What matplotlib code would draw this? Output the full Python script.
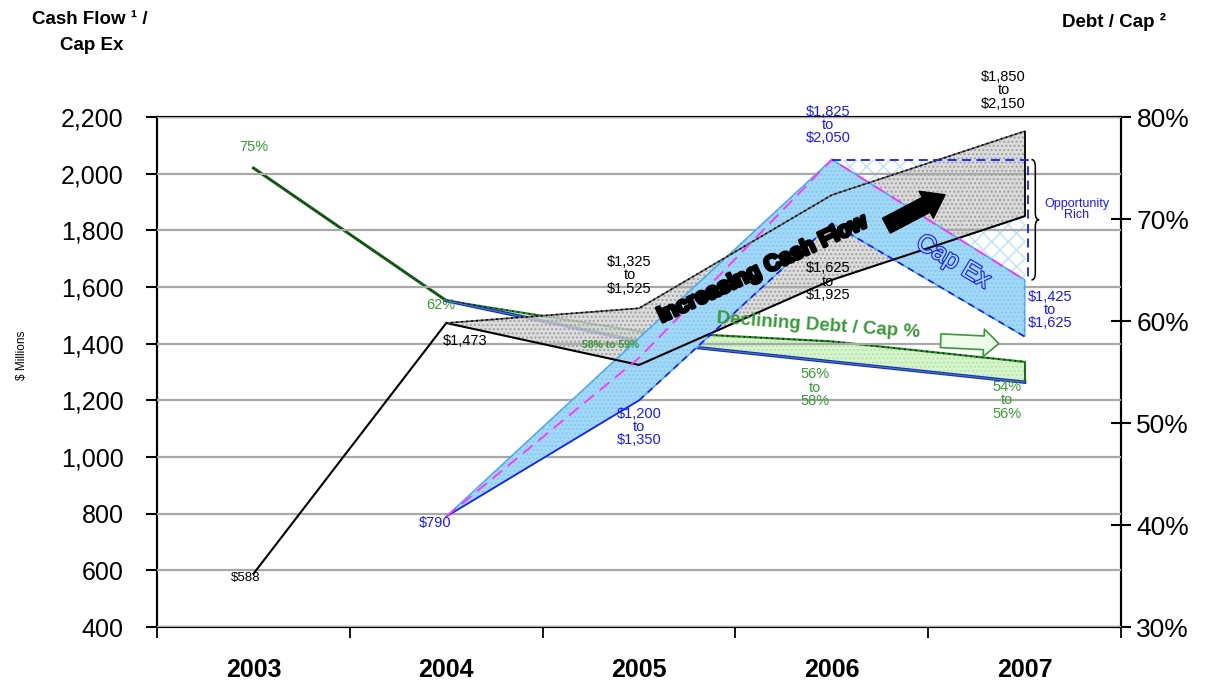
import numpy as np
import matplotlib
matplotlib.use('Agg')
import matplotlib.pyplot as plt
import matplotlib.patheffects as pe
from matplotlib.patches import Polygon, PathPatch
from matplotlib.path import Path
from matplotlib.ticker import FuncFormatter

plt.rcParams['font.family'] = ['Liberation Sans', 'DejaVu Sans']

# data
years = ['2003', '2004', '2005', '2006', '2007']
cash_low = [588, 1473, 1325, 1625, 1850]
cash_high = [588, 1473, 1525, 1925, 2150]
capex_years = ['2004', '2005', '2006', '2007']
capex_low = [790, 1200, 1825, 1425]
capex_high = [790, 1350, 2050, 1625]
debt_low = [75, 62, 58, 56, 54]      # Debt / Cap %
debt_high = [75, 62, 59, 58, 56]

x = np.arange(len(years))
cx = np.array([years.index(y) for y in capex_years])

BLUE = '#1a1aff'
GREEN = '#3a9a3a'
DKGREEN = '#1d6b1d'

fig = plt.figure(figsize=(12.09, 6.82), dpi=100)
ax = fig.add_axes([0.1299, 0.0806, 0.7974, 0.7478])
ax2 = ax.twinx()
ax.set_zorder(ax2.get_zorder() + 1)
ax.patch.set_visible(False)

# ---- Debt / Cap (right axis, drawn underneath) ----
ax2.fill_between(x[1:], debt_low[1:], debt_high[1:], color='#d6f5cc', lw=0, zorder=1)
ax2.fill_between(x[1:], debt_low[1:], debt_high[1:], facecolor='none', edgecolor='#b6e6a8',
                 hatch='....', lw=0, zorder=1.1)
ax2.plot(x[:2], debt_low[:2], color=DKGREEN, lw=2.2, zorder=3)
ax2.plot(x[:2], debt_low[:2], color='black', lw=0.8, ls=':', zorder=3.1)
ax2.plot(x[1:], debt_high[1:], color='#2a8a2a', lw=1.6, zorder=3)
ax2.plot(x[1:], debt_high[1:], color='black', lw=1.0, ls=(0, (1, 3)), zorder=3.1)
ax2.plot(x[1:], debt_low[1:], color=BLUE, lw=2.4, zorder=3)
ax2.plot(x[1:], debt_low[1:], color=GREEN, lw=0.8, zorder=3.1)
ax2.vlines(x[-1], debt_low[-1], debt_high[-1], color=DKGREEN, lw=1.5, zorder=3)
ax2.set_ylim(30, 80)
ax2.set_yticks(np.arange(30, 81, 10))
ax2.yaxis.set_major_formatter(FuncFormatter(lambda v, p: f'{v:.0f}%'))
ax2.tick_params(axis='y', direction='inout', length=14, width=1.5, labelsize=19, pad=4)

# ---- Opportunity region (between Cap Ex peak and 2007) ----
tri = [(cx[2], capex_high[2]), (cx[3], capex_high[2]), (cx[3], capex_high[3])]
ax.add_patch(Polygon(tri, closed=True, facecolor='white', edgecolor='#bfe2f5',
                     hatch='xx', lw=0, zorder=1.5))
ax.plot([cx[2], cx[3] + 0.015, cx[3] + 0.015], [capex_high[2], capex_high[2], capex_high[3]],
        color=BLUE, lw=1.3, ls=(0, (5, 3)), zorder=6)

# ---- Cash flow band ----
ax.plot(x[:2], cash_low[:2], color='black', lw=1.5, zorder=4)
ax.fill_between(x[1:], cash_low[1:], cash_high[1:], color='#d4d4d4', alpha=0.8, lw=0, zorder=2)
ax.fill_between(x[1:], cash_low[1:], cash_high[1:], facecolor='none', edgecolor='#a0a0a0',
                hatch='....', lw=0, zorder=2.1)
ax.plot(x[1:], cash_low[1:], color='black', lw=1.5, zorder=4)
ax.plot(x[1:], cash_high[1:], color='#555555', lw=1.2, zorder=4)
ax.plot(x[1:], cash_high[1:], color='black', lw=1.2, ls=(0, (1, 2)), zorder=4.1)
ax.vlines(x[-1], cash_low[-1], cash_high[-1], color='black', lw=1.3, zorder=4)

# ---- Cap Ex band (arrow-like band: top edge runs 2004 -> 2006 peak -> 2007) ----
band = [(cx[0], capex_high[0]), (cx[2], capex_high[2]), (cx[3], capex_high[3]),
        (cx[3], capex_low[3]), (cx[2], capex_low[2]), (cx[1], capex_low[1]), (cx[0], capex_low[0])]
ax.add_patch(Polygon(band, closed=True, facecolor='#a3d9f8', edgecolor='#4aa8e8', lw=1.2, zorder=3))
ax.add_patch(Polygon(band, closed=True, facecolor='none', edgecolor='#86c9f2', hatch='....',
                     lw=0, zorder=3.1))
ax.plot(cx[:2], capex_low[:2], color=BLUE, lw=1.2, zorder=5)
ax.plot(cx[1:], capex_low[1:], color=BLUE, lw=1.2, ls=(0, (4, 3)), zorder=5)
ax.plot(cx, capex_high, color='#ff33ff', lw=1.3, ls=(0, (7, 4)), zorder=5)

# ---- axes styling ----
ax.set_xlim(-0.5, len(years) - 0.5)
ax.set_ylim(400, 2200)
ax.set_yticks(np.arange(400, 2201, 200))
ax.yaxis.set_major_formatter(FuncFormatter(lambda v, p: f'{int(v):,}'))
ax.tick_params(axis='y', direction='out', length=8, width=1.5, labelsize=18, pad=16)
ax.set_xticks(np.arange(-0.5, len(years), 1.0))
ax.set_xticklabels([])
ax.tick_params(axis='x', which='major', direction='out', length=8, width=1.3)
ax.set_xticks(x, years, minor=True)
ax.tick_params(axis='x', which='minor', length=0, labelsize=18, pad=22)
for lab in ax.get_xticklabels(minor=True):
    lab.set_fontweight('bold')
ax.set_axisbelow(False)
ax.yaxis.grid(True, color='#a8a8a8', lw=1.6, zorder=1)
for g in ax.get_ygridlines():
    g.set_zorder(1.8)
for s in list(ax.spines.values()) + list(ax2.spines.values()):
    s.set_linewidth(1.5)
    s.set_color('black')

# ---- value labels ----
fs = 10.5
ax.text(x[0], 2094, f'{debt_low[0]}%', color=GREEN, fontsize=fs, ha='center', va='center', zorder=10)
ax.text(0.97, 1536, f'{debt_low[1]}%', color=GREEN, fontsize=fs, ha='center', va='center', zorder=10)
ax.text(-0.04, 573, f'${cash_low[0]:,}', color='black', fontsize=fs - 1, ha='center', va='center', zorder=10)
ax.text(1.1, 1409, f'${cash_low[1]:,}', color='black', fontsize=fs, ha='center', va='center', zorder=10)
ax.text(1.95, 1642, f'${cash_low[2]:,}\nto\n${cash_high[2]:,}', fontsize=fs, ha='center', va='center',
        linespacing=0.95, zorder=10)
ax.text(2.98, 1618, f'${cash_low[3]:,}\nto\n${cash_high[3]:,}', fontsize=fs, ha='center', va='center',
        linespacing=0.95, zorder=10)
ax.text(3.89, 2295, f'${cash_low[4]:,}\nto\n${cash_high[4]:,}', fontsize=fs, ha='center', va='center',
        linespacing=0.95, zorder=10, clip_on=False)
ax.text(0.94, 767, f'${capex_low[0]:,}', color=BLUE, fontsize=fs, ha='center', va='center', zorder=10)
ax.text(2.0, 1106, f'${capex_low[1]:,}\nto\n${capex_high[1]:,}', color=BLUE, fontsize=fs,
        ha='center', va='center', linespacing=0.95, zorder=10)
ax.text(2.98, 2172, f'${capex_low[2]:,}\nto\n${capex_high[2]:,}', color=BLUE, fontsize=fs,
        ha='center', va='center', linespacing=0.95, zorder=10)
ax.text(4.13, 1519, f'${capex_low[3]:,}\nto\n${capex_high[3]:,}', color=BLUE, fontsize=fs,
        ha='center', va='center', linespacing=0.95, zorder=10)
ax.text(2.91, 1244, f'{debt_low[3]}%\nto\n{debt_high[3]}%', color=GREEN, fontsize=fs,
        ha='center', va='center', linespacing=0.95, zorder=10)
ax.text(3.91, 1201, f'{debt_low[4]}%\nto\n{debt_high[4]}%', color=GREEN, fontsize=fs,
        ha='center', va='center', linespacing=0.95, zorder=10)
ax.text(1.85, 1395, f'{debt_low[2]}% to {debt_high[2]}%', color=GREEN, fontsize=7.5,
        fontweight='bold', ha='center', va='center', zorder=10)

# ---- callouts ----
ax.text(2.64, 1662, 'Increasing Cash Flow', fontsize=16, fontweight='bold', rotation=25,
        ha='center', va='center', color='black', zorder=11,
        path_effects=[pe.Stroke(linewidth=2.4, foreground='black'), pe.Normal()])
ax.annotate('', xy=(3.6, 1930), xytext=(3.27, 1812), zorder=11,
            arrowprops=dict(arrowstyle='simple,head_length=0.7,head_width=1.0,tail_width=0.55',
                            color='black', mutation_scale=22))
ax.text(2.93, 1462, 'Declining Debt / Cap %', fontsize=13.5, fontweight='bold', rotation=-4,
        ha='center', va='center', color=GREEN, zorder=11)
ax.annotate('', xy=(3.88, 1400), xytext=(3.55, 1411), zorder=11,
            arrowprops=dict(arrowstyle='simple,head_length=0.6,head_width=1.1,tail_width=0.55',
                            fc='#eefde9', ec=GREEN, lw=1.2, mutation_scale=18))
ax.text(3.63, 1690, 'Cap Ex', fontsize=18, rotation=-31, ha='center', va='center',
        color='#a3d9f8', zorder=11,
        path_effects=[pe.Stroke(linewidth=1.6, foreground=BLUE), pe.Normal()])

# brace and "Opportunity Rich"
x0, xt = 4.035, 4.075
xm = (x0 + xt) / 2
yt, yb = capex_high[2], capex_high[3]
ym = (yt + yb) / 2
r = 25
verts = [(x0, yt), (xm, yt), (xm, yt - r), (xm, ym + r), (xm, ym), (xt, ym),
         (xm, ym), (xm, ym - r), (xm, yb + r), (xm, yb), (x0, yb)]
codes = [Path.MOVETO, Path.CURVE3, Path.CURVE3, Path.LINETO, Path.CURVE3, Path.CURVE3,
         Path.CURVE3, Path.CURVE3, Path.LINETO, Path.CURVE3, Path.CURVE3]
ax.add_patch(PathPatch(Path(verts, codes), facecolor='none', edgecolor='black', lw=1.1, zorder=10))
ax.text(4.27, 1875, 'Opportunity\nRich', color=BLUE, fontsize=9, ha='center', va='center',
        linespacing=0.9, zorder=11)

# ---- axis titles ----
fig.text(90 / 1209, 1 - 20 / 682, 'Cash Flow \u00b9 /', fontsize=13.5, fontweight='bold',
         ha='center', va='center')
fig.text(92 / 1209, 1 - 46 / 682, 'Cap Ex', fontsize=13.5, fontweight='bold', ha='center', va='center')
fig.text(1114 / 1209, 1 - 22 / 682, 'Debt / Cap \u00b2', fontsize=13.5, fontweight='bold',
         ha='center', va='center')
fig.text(22 / 1209, 1 - 355 / 682, '$ Millions', fontsize=8.5, rotation=90, ha='center', va='center')

fig.savefig('out.png', dpi=100)
